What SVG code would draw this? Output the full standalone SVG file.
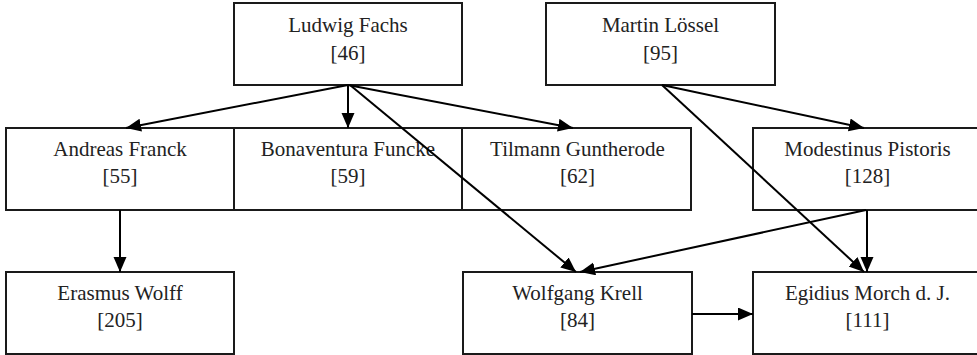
<svg xmlns="http://www.w3.org/2000/svg" width="977" height="355" viewBox="0 0 977 355">
<style>
.box{fill:#fff;stroke:#1a1a1a;stroke-width:2}
.t{font-family:"Liberation Serif","Times New Roman",serif;font-size:21px;fill:#222;text-anchor:middle}
.c{stroke:#000;stroke-width:2;fill:none;marker-end:url(#ah)}
</style>
<defs>
<marker id="ah" markerUnits="userSpaceOnUse" markerWidth="16" markerHeight="14" refX="15" refY="6.5" orient="auto">
<path d="M0,0 L15,6.5 L0,13 z" fill="#000"/>
</marker>
</defs>
<rect width="977" height="355" fill="#fff"/>
<g id="n46"><rect class="box" x="234" y="3" width="228" height="82"/><text class="t" x="348" y="32">Ludwig Fachs</text><text class="t" x="348" y="60">[46]</text></g>
<g id="n95"><rect class="box" x="546" y="3" width="229" height="82"/><text class="t" x="660.5" y="32">Martin Lössel</text><text class="t" x="660.5" y="60">[95]</text></g>
<g id="n55"><rect class="box" x="6" y="128" width="228" height="82"/><text class="t" x="120" y="156">Andreas Franck</text><text class="t" x="120" y="183">[55]</text></g>
<g id="n59"><rect class="box" x="234" y="128" width="228" height="82"/><text class="t" x="348" y="156">Bonaventura Funcke</text><text class="t" x="348" y="183">[59]</text></g>
<g id="n62"><rect class="box" x="462" y="128" width="229" height="82"/><text class="t" x="577.5" y="156">Tilmann Guntherode</text><text class="t" x="577.5" y="183">[62]</text></g>
<g id="n128"><rect class="box" x="753" y="128" width="229" height="82"/><text class="t" x="867.5" y="156">Modestinus Pistoris</text><text class="t" x="867.5" y="183">[128]</text></g>
<g id="n205"><rect class="box" x="6" y="272" width="228" height="82"/><text class="t" x="120" y="300">Erasmus Wolff</text><text class="t" x="120" y="327">[205]</text></g>
<g id="n84"><rect class="box" x="463" y="272" width="229" height="82"/><text class="t" x="577.5" y="300">Wolfgang Krell</text><text class="t" x="577.5" y="327">[84]</text></g>
<g id="n111"><rect class="box" x="753" y="272" width="229" height="82"/><text class="t" x="867.5" y="300">Egidius Morch d. J.</text><text class="t" x="867.5" y="327">[111]</text></g>
<g id="connectors">
<line class="c" x1="348" y1="85" x2="126" y2="128"/>
<line class="c" x1="348" y1="85" x2="348" y2="128"/>
<line class="c" x1="348" y1="85" x2="573" y2="128"/>
<line class="c" x1="350" y1="85" x2="576" y2="272"/>
<line class="c" x1="662" y1="85" x2="864" y2="128"/>
<line class="c" x1="662" y1="85" x2="864" y2="272"/>
<line class="c" x1="866" y1="210" x2="580" y2="272"/>
<line class="c" x1="867" y1="210" x2="867" y2="272"/>
<line class="c" x1="120" y1="210" x2="120" y2="272"/>
<line class="c" x1="692" y1="314" x2="753" y2="314"/>
</g>
</svg>
